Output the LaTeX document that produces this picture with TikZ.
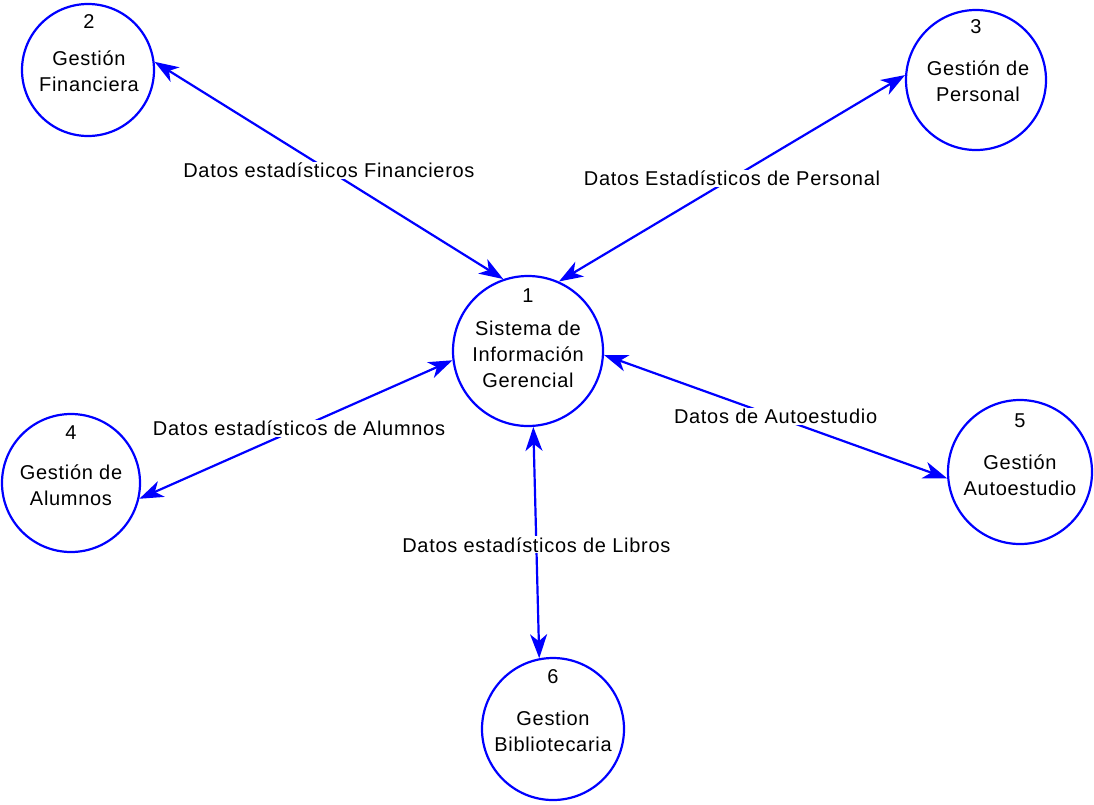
\documentclass[tikz,border=0pt]{standalone}
\usepackage{fontspec}
\setmainfont[LetterSpace=3.5]{Liberation Sans}
\usetikzlibrary{arrows.meta,calc}
\definecolor{dfdblue}{RGB}{0,0,255}
\tikzset{
  proc/.style={circle,draw=dfdblue,line width=2.2pt,fill=white,inner sep=0pt},
  numtxt/.style={inner sep=0pt,font=\fontsize{20}{26}\selectfont},
  nametxt/.style={inner sep=0pt,align=center,font=\fontsize{20}{26}\selectfont},
  flow/.style={draw=dfdblue,line width=2.2pt,{Stealth[length=24pt,width=17pt,inset=7pt]}-{Stealth[length=24pt,width=17pt,inset=7pt]}},
  flowlbl/.style={fill=white,inner sep=1pt,font=\fontsize{20}{26}\selectfont}
}
\begin{document}
\begin{tikzpicture}[x=1pt,y=-1pt]
\useasboundingbox (0,0) rectangle (1094,804);
% processes
\node[proc,minimum size=132pt] (n2) at (88,70) {};
\node[proc,minimum size=140pt] (n3) at (976,80) {};
\node[proc,minimum size=150pt] (n1) at (528,351) {};
\node[proc,minimum size=138pt] (n4) at (71,483) {};
\node[proc,minimum size=144pt] (n5) at (1020,472) {};
\node[proc,minimum size=142pt] (n6) at (553,729) {};
% numbers
\node[numtxt] (n1num) at ($(n1.center)+(0,-55)$) {1};
\node[numtxt] (n2num) at ($(n2.center)+(1,-48)$) {2};
\node[numtxt] (n3num) at ($(n3.center)+(0,-53)$) {3};
\node[numtxt] (n4num) at ($(n4.center)+(0,-50)$) {4};
\node[numtxt] (n5num) at ($(n5.center)+(0,-51)$) {5};
\node[numtxt] (n6num) at ($(n6.center)+(0,-52)$) {6};
% names
\node[nametxt] (n1txt) at ($(n1.center)+(0,3)$) {Sistema de\\Información\\Gerencial};
\node[nametxt] (n2txt) at ($(n2.center)+(1,1)$) {Gestión\\Financiera};
\node[nametxt] (n3txt) at ($(n3.center)+(2,1)$) {Gestión de\\Personal};
\node[nametxt] (n4txt) at ($(n4.center)+(0,2)$) {Gestión de\\Alumnos};
\node[nametxt] (n5txt) at ($(n5.center)+(0,3)$) {Gestión\\Autoestudio};
\node[nametxt] (n6txt) at ($(n6.center)+(0,2)$) {Gestion\\Bibliotecaria};
% flows
\draw[flow] (n2.7) -- node[flowlbl] (l21) {Datos estadísticos Financieros} (n1.109);
\draw[flow] (n3.176) -- node[flowlbl,pos=0.5] (l31) {Datos Estadísticos de Personal} (n1.66);
\draw[flow] (n4.347) -- node[flowlbl,pos=0.51] (l41) {Datos estadísticos de Alumnos} (n1.187);
\draw[flow] (n5.185) -- node[flowlbl,pos=0.50] (l51) {Datos de Autoestudio} (n1.357);
\draw[flow] (n6.101) -- node[flowlbl,pos=0.49] (l61) {Datos estadísticos de Libros} (n1.274);
\end{tikzpicture}
\end{document}
